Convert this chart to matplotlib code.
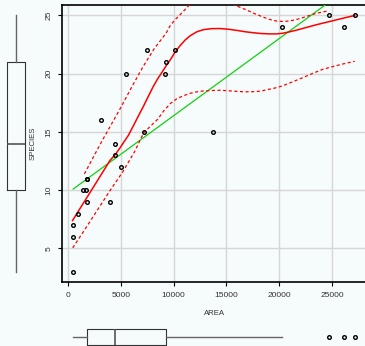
import numpy as np
import matplotlib.pyplot as plt

# points (one point at 1800/11 is drawn twice)
area = [7500, 5500, 9300, 9150, 10100, 3100, 4450, 7150, 4430, 5000, 1800, 1400, 1700,
        1800, 4000, 950, 490, 490, 510, 13700, 20300, 24700, 26150, 27150, 1800]
species = [22, 20, 21, 20, 22, 16, 14, 15, 13, 12, 11, 10, 10,
           9, 9, 8, 7, 6, 3, 15, 24, 25, 24, 25, 11]

# least squares line, ends
fit_x = [490, 27150]
fit_y = [10.1, 27.75]

# smoother and spread lines
smooth_x = [430, 965, 2550, 3320, 3970, 4500, 4900, 5300, 5710, 6170, 6650, 7140, 7600, 8070,
            8480, 8880, 9340, 9660, 10100, 10600, 11100, 11550, 12200, 12800, 13600, 14400,
            15200, 15980, 16800, 17550, 18300, 19100, 19700, 20300, 21000, 21800, 22600,
            23500, 24400, 25300, 26200, 27150]
smooth_y = [7.4, 8.18, 10.48, 11.6, 12.55, 13.1, 13.6, 14.15, 14.7, 15.5, 16.35, 17.2, 18.05,
            18.9, 19.55, 20.1, 20.75, 21.15, 21.8, 22.4, 22.9, 23.25, 23.6, 23.78, 23.87, 23.88,
            23.82, 23.72, 23.6, 23.52, 23.45, 23.42, 23.42, 23.47, 23.6, 23.78, 23.98,
            24.2, 24.4, 24.6, 24.8, 25.0]
upper_x = [1550, 3200, 5000, 6000, 7100, 8200, 8800, 9300, 9660, 10100, 10600, 11550, 12500,
           13600, 14700, 15650, 16300, 16900, 17500, 18100, 18600, 19100, 19750, 20300, 20900,
           21500, 22200, 22800, 23400, 24000, 24700]
upper_y = [11.4, 14.2, 17.1, 18.8, 20.6, 22.2, 22.9, 23.5, 24.1, 24.6, 25.05, 25.95, 26.4,
           26.6, 26.4, 25.95, 25.7, 25.48, 25.22, 25.0, 24.82, 24.66, 24.52, 24.49, 24.52,
           24.62, 24.8, 24.98, 25.15, 25.28, 25.4]
lower_x = [450, 2000, 4000, 5200, 6300, 7150, 7700, 8500, 9100, 9700, 10300, 10900, 11500,
           12100, 12800, 13600, 14400, 15200, 16000, 16800, 17700, 18300, 18800, 19500,
           20300, 21200, 22170, 23100, 24070, 25100, 26100, 27150]
lower_y = [5.05, 7.2, 10.0, 11.6, 13.3, 14.9, 15.4, 16.1, 16.85, 17.45, 17.85, 18.1, 18.3,
           18.43, 18.52, 18.56, 18.58, 18.54, 18.48, 18.45, 18.46, 18.52, 18.62, 18.75,
           18.95, 19.28, 19.64, 20.0, 20.36, 20.62, 20.85, 21.07]

xticks = [0, 5000, 10000, 15000, 20000, 25000]
yticks = [5, 10, 15, 20, 25]

plt.rcParams['font.family'] = ['Liberation Sans', 'DejaVu Sans']
bg = '#f6fbfb'
W, H = 365, 346
fig = plt.figure(figsize=(W / 100, H / 100), dpi=100, facecolor=bg)


def rect(l, t, r, b):
    return [l / W, 1 - b / H, (r - l) / W, (b - t) / H]


xlim = (-570, 28220)
ylim = (2.12, 25.9)

# main scatter
ax = fig.add_axes(rect(62, 5, 366, 282))
ax.set_facecolor(bg)
ax.plot(area, species, 'o', ms=2.6, mfc='none', mec='black', mew=1.0, zorder=4)
ax.plot(fit_x, fit_y, color='#11d011', lw=0.9, zorder=3)
ax.plot(smooth_x, smooth_y, color='red', lw=1.1, zorder=3)
ax.plot(upper_x, upper_y, color='red', lw=0.9, ls=(0, (2.5, 2)), zorder=3)
ax.plot(lower_x, lower_y, color='red', lw=0.9, ls=(0, (2.5, 2)), zorder=3)
ax.set_xlim(xlim)
ax.set_ylim(ylim)
ax.set_xticks(xticks)
ax.set_yticks(yticks)
ax.grid(True, color='#d6d6d6', lw=1.0)
ax.set_axisbelow(True)
ax.tick_params(length=3, width=0.8, color='black', labelsize=6, labelcolor='#333333', pad=4)
plt.setp(ax.get_yticklabels(), rotation=90, va='center')
for s in ax.spines.values():
    s.set_linewidth(1.2)
ax.set_xlabel('AREA', fontsize=5.6, color='#333333', labelpad=8)
ax.set_ylabel('SPECIES', fontsize=5.6, color='#333333', labelpad=6)

box_kw = dict(showcaps=False, patch_artist=False,
              boxprops=dict(color='#333333', lw=0.8),
              whiskerprops=dict(color='#666666', lw=1.0, ls='-'),
              medianprops=dict(color='#555555', lw=1.2),
              flierprops=dict(marker='o', ms=2.6, mfc='none', mec='black', mew=1.0))

# boxplot for SPECIES on the left
axl = fig.add_axes(rect(0, 5, 32, 282))
axl.boxplot(species, positions=[16], widths=18, **box_kw)
axl.set_xlim(0, 32)
axl.set_ylim(ylim)
axl.axis('off')

# boxplot for AREA at the bottom
axb = fig.add_axes(rect(62, 320, 366, 354))
axb.boxplot(area, vert=False, positions=[17], widths=16, **box_kw)
axb.set_xlim(xlim)
axb.set_ylim(0, 34)
axb.axis('off')

fig.savefig('out.png', dpi=100, facecolor=bg)
